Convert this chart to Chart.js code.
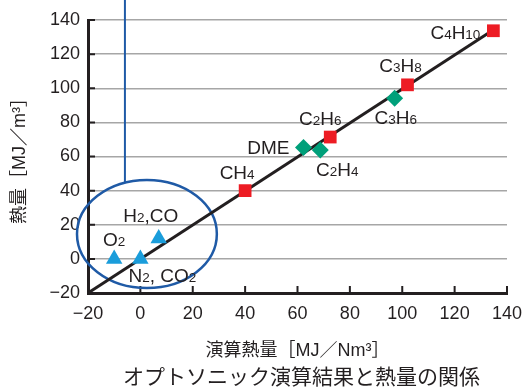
<!DOCTYPE html>
<html>
<head>
<meta charset="utf-8">
<script src="https://cdn.jsdelivr.net/npm/chart.js@4.4.1/dist/chart.umd.min.js"></script>
<style>
  body { margin: 0; background: #fff; }
  #wrap { width: 523px; height: 389px; position: relative; }
</style>
</head>
<body>
<div id="wrap"><canvas id="chart"></canvas></div>
<script>
// Data
const squareNames = ['CH4', 'C2H6', 'C3H8', 'C4H10'];
const squareX = [40, 72.5, 102, 134.8];
const squareY = [40, 71.4, 102, 133.7];

const diamondNames = ['DME', 'C2H4', 'C3H6'];
const diamondX = [62.3, 68.7, 97.1];
const diamondY = [65.3, 63.8, 94.1];

const triangleNames = ['O2', 'N2, CO2', 'H2,CO'];
const triangleX = [-10, 0, 7];
const triangleY = [0, 0, 12];

// reference line y = x
const lineX = [-20, 135];
const lineY = [-20, 134.5];

// ellipse round the non-combustible gases (data units)
const ringCenter = [2.5, 14.6];
const ringRadius = [26.7, 31.7];
const calloutX = -5.9;

const tickValues = [-20, 0, 20, 40, 60, 80, 100, 120, 140];

const xTitle = '演算熱量［MJ／Nm³］';
const yTitle = '熱量［MJ／m³］';
const caption = 'オプトソニック演算結果と熱量の関係';

const FONT = "'Liberation Sans', Arial, 'Noto Sans CJK JP', sans-serif";
const INK = '#231f20';

const toPoints = (xs, ys) => xs.map((x, i) => ({ x: x, y: ys[i] }));
const fmt = v => v < 0 ? '\u2212' + Math.abs(v) : String(v);

// label placement: [dx, dy, align] in pixels from the mark
const labelPlace = {
  'CH4': [-8, -18, 'center'],
  'C2H6': [-10, -19, 'center'],
  'C3H8': [-7, -19, 'center'],
  'C4H10': [-13, 2, 'right'],
  'DME': [-14, 0, 'right'],
  'C2H4': [17, 19, 'center'],
  'C3H6': [1, 19, 'center'],
  'O2': [0, -19, 'center'],
  'N2, CO2': [22, 17, 'center'],
  'H2,CO': [-8, -23, 'center']
};

// draw formula with small digits
function drawFormula(ctx, text, x, y, align) {
  const parts = text.split(/(\d+)/).filter(s => s.length);
  const big = '19px ' + FONT, small = '13.5px ' + FONT;
  let w = 0;
  parts.forEach(p => { ctx.font = /\d/.test(p) ? small : big; w += ctx.measureText(p).width; });
  let cx = align === 'right' ? x - w : x - w / 2;
  ctx.textAlign = 'left';
  ctx.textBaseline = 'alphabetic';
  parts.forEach(p => {
    ctx.font = /\d/.test(p) ? small : big;
    ctx.fillText(p, cx, y + 6.5);
    cx += ctx.measureText(p).width;
  });
}

const extras = {
  id: 'extras',
  beforeDatasetsDraw(chart) {
    const { ctx, scales: { x, y }, chartArea } = chart;
    ctx.save();
    // inward tick marks
    ctx.strokeStyle = INK;
    ctx.lineWidth = 2;
    tickValues.forEach(v => {
      const px = x.getPixelForValue(v);
      const py = y.getPixelForValue(v);
      ctx.beginPath();
      ctx.moveTo(px, chartArea.bottom);
      ctx.lineTo(px, chartArea.bottom - 7);
      ctx.moveTo(chartArea.left, py);
      ctx.lineTo(chartArea.left + 7, py);
      ctx.stroke();
    });
    // ellipse and callout
    const cx = x.getPixelForValue(ringCenter[0]);
    const cy = y.getPixelForValue(ringCenter[1]);
    const rx = x.getPixelForValue(ringCenter[0] + ringRadius[0]) - cx;
    const ry = cy - y.getPixelForValue(ringCenter[1] + ringRadius[1]);
    ctx.strokeStyle = '#1f5aa6';
    ctx.lineWidth = 2.5;
    ctx.beginPath();
    ctx.ellipse(cx, cy, rx, ry, 0, 0, Math.PI * 2);
    ctx.stroke();
    const lx = x.getPixelForValue(calloutX);
    const dx = (lx - cx) / rx;
    const ly = cy - ry * Math.sqrt(1 - dx * dx);
    ctx.lineWidth = 2;
    ctx.beginPath();
    ctx.moveTo(lx, 0);
    ctx.lineTo(lx, ly);
    ctx.stroke();
    ctx.restore();
  },
  afterDatasetsDraw(chart) {
    const { ctx, scales: { x, y } } = chart;
    ctx.save();
    ctx.fillStyle = INK;
    const groups = [[squareNames, squareX, squareY], [diamondNames, diamondX, diamondY], [triangleNames, triangleX, triangleY]];
    groups.forEach(([names, xs, ys]) => {
      names.forEach((n, i) => {
        const p = labelPlace[n];
        drawFormula(ctx, n, x.getPixelForValue(xs[i]) + p[0], y.getPixelForValue(ys[i]) + p[1], p[2]);
      });
    });
    ctx.restore();
  },
  afterDraw(chart) {
    const { ctx, chartArea } = chart;
    ctx.save();
    ctx.fillStyle = INK;
    ctx.font = '21px ' + FONT;
    ctx.textAlign = 'center';
    ctx.textBaseline = 'middle';
    ctx.fillText(caption, (chartArea.left + chartArea.right) / 2 + 4, 378);
    ctx.restore();
  }
};

new Chart(document.getElementById('chart'), {
  type: 'scatter',
  data: {
    datasets: [
      {
        label: 'squares',
        data: toPoints(squareX, squareY),
        pointStyle: 'rect',
        pointRadius: 9,
        pointHoverRadius: 9,
        backgroundColor: '#ed1c24',
        borderWidth: 0
      },
      {
        label: 'diamonds',
        data: toPoints(diamondX, diamondY),
        pointStyle: 'rectRot',
        pointRadius: 8.5,
        pointHoverRadius: 8.5,
        backgroundColor: '#00a07a',
        borderWidth: 0
      },
      {
        label: 'triangles',
        data: toPoints(triangleX, triangleY),
        pointStyle: 'triangle',
        pointRadius: 9.5,
        pointHoverRadius: 9.5,
        backgroundColor: '#1a9ddb',
        borderWidth: 0
      },
      {
        label: 'line',
        type: 'line',
        data: toPoints(lineX, lineY),
        borderColor: INK,
        borderWidth: 3,
        pointRadius: 0,
        fill: false
      }
    ]
  },
  options: {
    responsive: true,
    maintainAspectRatio: false,
    animation: false,
    layout: { padding: { top: 20, right: 16, left: 0, bottom: 0 } },
    plugins: {
      legend: { display: false },
      tooltip: { enabled: false }
    },
    scales: {
      x: {
        type: 'linear',
        min: -20,
        max: 140,
        afterFit: s => { s.height = 96; s.paddingRight = 0; s.paddingLeft = 0; },
        grid: { display: false, drawTicks: false },
        border: { color: INK, width: 3 },
        ticks: {
          stepSize: 20,
          padding: 10,
          color: INK,
          font: { family: FONT, size: 18 },
          callback: v => fmt(v)
        },
        title: {
          display: true,
          text: xTitle,
          color: INK,
          font: { family: FONT, size: 18 },
          padding: { top: 0, bottom: 27 }
        }
      },
      y: {
        type: 'linear',
        min: -20,
        max: 140,
        afterFit: s => { s.width = 88; },
        grid: { color: '#a6a6a6', lineWidth: 1.5, drawTicks: false },
        border: { color: INK, width: 3 },
        ticks: {
          stepSize: 20,
          padding: 8,
          color: INK,
          font: { family: FONT, size: 18 },
          callback: v => fmt(v)
        },
        title: {
          display: true,
          text: yTitle,
          color: INK,
          font: { family: FONT, size: 18 },
          padding: { top: 9, bottom: 0 }
        }
      }
    }
  },
  plugins: [extras]
});
</script>
</body>
</html>
